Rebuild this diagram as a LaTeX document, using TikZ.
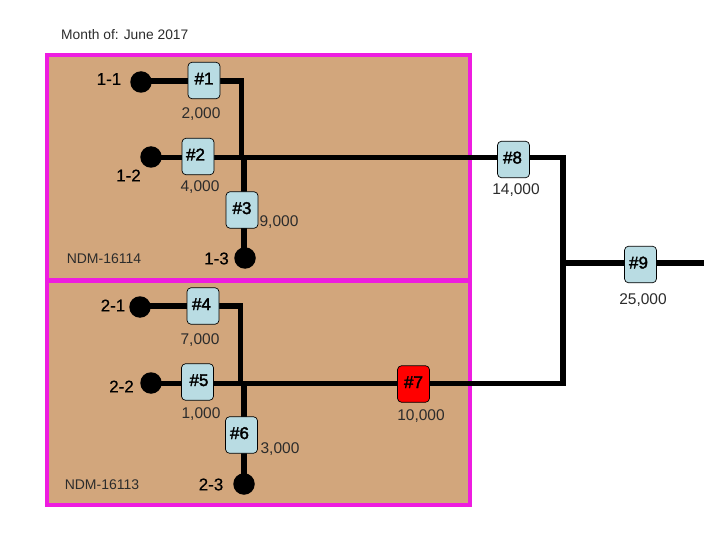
\documentclass[tikz,border=0pt]{standalone}
\usepackage{fontspec}
\setmainfont{Liberation Sans}
\newfontfamily\semifont[FakeBold=0.35]{Liberation Sans}
\newfontfamily\boxfont[FakeBold=2]{Liberation Sans}
\definecolor{tanfill}{HTML}{D2A67C}
\definecolor{magframe}{HTML}{EE1CE0}
\definecolor{boxblue}{HTML}{B9DCE3}
\definecolor{inkline}{HTML}{2C2C2C}
\pgfdeclarelayer{panels}
\pgfdeclarelayer{pipes}
\pgfsetlayers{panels,pipes,main}
\tikzset{
  panel/.style={draw=magframe,fill=tanfill,line width=4pt,outer sep=0pt,inner sep=0pt,minimum width=423pt,minimum height=225pt},
  stepbox/.style={draw=black,fill=boxblue,rounded corners=4pt,line width=0.7pt,minimum width=32pt,minimum height=36.5pt,inner sep=0pt,text height=12pt,text depth=4pt,font=\boxfont\fontsize{17}{17}\selectfont},
  redbox/.style={stepbox,fill=red},
  pipe/.style={draw=black,line width=5.6pt,line cap=butt,line join=miter},
  endpoint/.style={circle,fill=black,minimum size=21.5pt,inner sep=0pt},
  idlabel/.style={text=black,inner sep=0pt,font=\semifont\fontsize{17}{17}\selectfont},
  amount/.style={text=inkline,inner sep=0pt,font=\fontsize{15.5}{16}\selectfont},
  caption/.style={text=inkline,inner sep=0pt,font=\fontsize{14}{14}\selectfont}
}
\begin{document}
\begin{tikzpicture}[x=1pt,y=-1pt]
\useasboundingbox (0,0) rectangle (720,540);
\begin{pgfonlayer}{panels}
\fill[white] (0,0) rectangle (720,540);
\node[panel,anchor=north west] (top) at (47,55) {};
\node[panel,anchor=north west,minimum height=224.5pt] (bottom) at (47,280.5) {};
\end{pgfonlayer}
\node[caption,anchor=west,font=\fontsize{13.8}{14}\selectfont] (month) at (61,34.5) {Month of: June 2017};
% endpoints
\node[endpoint] (e11) at (141,82) {};
\node[endpoint] (e12) at (151,157) {};
\node[endpoint] (e13) at (245,258) {};
\node[endpoint] (e21) at (140,307) {};
\node[endpoint] (e22) at (151,383) {};
\node[endpoint] (e23) at (244,484) {};
% boxes
\node[stepbox] (n1) at (204,80.5) {\#1};
\node[stepbox] (n2) at (198,156.5) {\kern-5pt\#2};
\node[stepbox] (n3) at (242,210) {\#3};
\node[stepbox] (n4) at (203,306) {\kern-3pt\#4};
\node[stepbox] (n5) at (197.5,382) {\kern3pt\#5};
\node[stepbox] (n6) at (241.5,435) {\kern-4pt\#6};
\node[redbox] (n7) at (413.5,384) {\#7};
\node[stepbox] (n8) at (513.5,159.5) {\kern-2pt\#8};
\node[stepbox] (n9) at (640.5,264.5) {\kern-4pt\#9};
% junctions
\coordinate (j1) at (241.5,81);
\coordinate (j2) at (241.5,157.5);
\coordinate (k2) at (244,157.5);
\coordinate (j4) at (240.5,306);
\coordinate (j5) at (240.5,383.5);
\coordinate (k5) at (244,383.5);
\coordinate (r8) at (563,157.5);
\coordinate (r7) at (563,383.5);
\coordinate (r9) at (563,263);
\coordinate (out) at (704,263);
% connectors
\begin{pgfonlayer}{pipes}
\draw[pipe] (e11.center |- j1) -- (n1.center |- j1);
\draw[pipe] (n1.center |- j1) -- (j1) -- (j2);
\draw[pipe] (e12.center |- j2) -- (n2.center |- j2);
\draw[pipe] (n2.center |- j2) -- (n8.center |- j2);
\draw[pipe] (n8.center |- j2) -- (r8) -- (r7) -- (n7.center |- r7);
\draw[pipe] (k2) -- (k2 |- n3.center);
\draw[pipe] (k2 |- n3.center) -- (k2 |- e13.center);
\draw[pipe] (e21.center |- j4) -- (n4.center |- j4);
\draw[pipe] (n4.center |- j4) -- (j4) -- (j5);
\draw[pipe] (e22.center |- j5) -- (n5.center |- j5);
\draw[pipe] (n5.center |- j5) -- (n7.center |- j5);
\draw[pipe] (k5) -- (k5 |- n6.center);
\draw[pipe] (k5 |- n6.center) -- (k5 |- e23.center);
\draw[pipe] (r9) -- (n9.center |- r9);
\draw[pipe] (n9.center |- r9) -- (out);
\end{pgfonlayer}
% labels
\node[idlabel] (l11) at (109,79) {1-1};
\node[idlabel] (l12) at (128.5,175.5) {1-2};
\node[idlabel] (l13) at (216.5,258.5) {1-3};
\node[idlabel] (l21) at (113,305.5) {2-1};
\node[idlabel] (l22) at (121.5,386.5) {2-2};
\node[idlabel] (l23) at (211,484.5) {2-3};
\node[amount] (a1) at (201,114) {2,000};
\node[amount] (a2) at (200,187) {4,000};
\node[amount] (a3) at (279,222.5) {9,000};
\node[amount] (a4) at (200,340) {7,000};
\node[amount] (a5) at (201,414.5) {1,000};
\node[amount] (a6) at (280,449.5) {3,000};
\node[amount] (a7) at (421,416.5) {10,000};
\node[amount] (a8) at (516,190.5) {14,000};
\node[amount] (a9) at (643,300) {25,000};
\node[caption] (ndm1) at (104,259) {NDM-16114};
\node[caption] (ndm2) at (102,485) {NDM-16113};
\end{tikzpicture}
\end{document}
